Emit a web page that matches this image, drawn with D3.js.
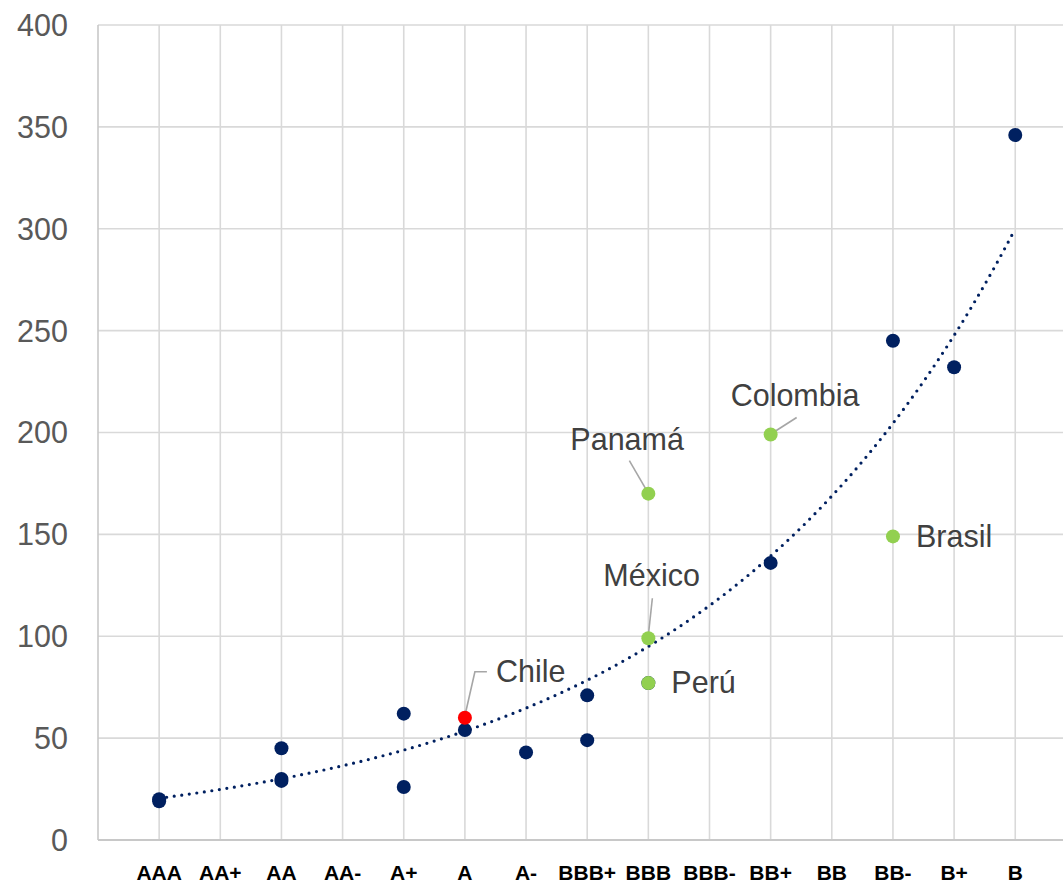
<!DOCTYPE html>
<html>
<head>
<meta charset="utf-8">
<script src="https://cdn.jsdelivr.net/npm/d3@7"></script>
<style>
  html, body { margin: 0; padding: 0; background: #fff; }
  svg { display: block; }
  text { font-family: Arial, "Liberation Sans", sans-serif; }
</style>
</head>
<body>
<svg id="chart" width="1063" height="884"></svg>
<script>
// ---- Data ----
const categories = ["AAA","AA+","AA","AA-","A+","A","A-","BBB+","BBB","BBB-","BB+","BB","BB-","B+","B"];
const yTicks = [0, 50, 100, 150, 200, 250, 300, 350, 400];

// other countries (navy)
const otherRatings = ["AAA","AAA","AA","AA","AA","A+","A+","A","A-","BBB+","BBB+","BBB","BB+","BB-","B+","B"];
const otherValues  = [20, 19, 45, 30, 29, 62, 26, 54, 43, 71, 49, 77, 136, 245, 232, 346];

// highlighted Latin American countries (green)
const latamNames   = ["Panamá","México","Perú","Colombia","Brasil"];
const latamRatings = ["BBB","BBB","BBB","BB+","BB-"];
const latamValues  = [170, 99, 77, 199, 149];

// Chile (red)
const chileName = "Chile";
const chileRating = "A";
const chileValue = 60;

// exponential trend line endpoints
const trendStartValue = 20.5;   // at AAA
const trendEndValue = 300;      // at B

// ---- Layout / style ----
const svg = d3.select("#chart");
const x = d3.scaleLinear().domain([0, 16]).range([98, 98 + 16 * 61.15]);
const y = d3.scaleLinear().domain([0, 400]).range([840, 25]);
const pos = c => categories.indexOf(c) + 1;

const navy = "#002060", green = "#92D050", red = "#FF0000";
const gridColor = "#D9D9D9";

// gridlines
const g = svg.append("g");
g.selectAll("line.h").data(yTicks.filter(d => d > 0)).join("line")
  .attr("x1", x(0)).attr("x2", 1063)
  .attr("y1", d => y(d)).attr("y2", d => y(d))
  .attr("stroke", gridColor).attr("stroke-width", 1.6);
g.selectAll("line.v").data(d3.range(0, 17)).join("line")
  .attr("x1", d => x(d)).attr("x2", d => x(d))
  .attr("y1", y(400)).attr("y2", y(0))
  .attr("stroke", d => d === 0 ? "#C8C8C8" : gridColor).attr("stroke-width", 1.6);
// baseline
g.append("line").attr("x1", x(0)).attr("x2", 1063).attr("y1", y(0)).attr("y2", y(0))
  .attr("stroke", "#C8C8C8").attr("stroke-width", 1.8);

// y axis labels
svg.append("g").selectAll("text").data(yTicks).join("text")
  .attr("x", 68).attr("y", d => y(d)).attr("dy", "0.36em")
  .attr("text-anchor", "end").attr("font-size", 30.5).attr("fill", "#595959")
  .text(d => d);

// x axis labels
svg.append("g").selectAll("text").data(categories).join("text")
  .attr("x", (d, i) => x(i + 1)).attr("y", 880)
  .attr("text-anchor", "middle").attr("font-size", 21).attr("font-weight", "bold")
  .attr("fill", "#000").text(d => d);

// trend line
const b = Math.log(trendEndValue / trendStartValue) / 14;
const trendPts = d3.range(1, 15.001, 0.05).map(t => [t, trendStartValue * Math.exp(b * (t - 1))]);
svg.append("path")
  .datum(trendPts)
  .attr("d", d3.line().x(d => x(d[0])).y(d => y(d[1])))
  .attr("fill", "none").attr("stroke", navy).attr("stroke-width", 3.2)
  .attr("stroke-linecap", "round").attr("stroke-dasharray", "0 7.6");

// navy points
svg.append("g").selectAll("circle").data(otherValues).join("circle")
  .attr("cx", (d, i) => x(pos(otherRatings[i]))).attr("cy", d => y(d))
  .attr("r", 7).attr("fill", navy);

// leader lines + labels
const labelLayout = {
  "Panamá":   { tx: -78, ty: -44, line: [[-19, -33], [-1, -2]] },
  "México":   { tx: -45, ty: -52, line: [[4, -40], [0, -3]] },
  "Perú":     { tx: 23, ty: 10, line: null },
  "Colombia": { tx: -40, ty: -29, line: [[26, -17], [1, -1]] },
  "Brasil":   { tx: 23, ty: 11, line: null },
  "Chile":    { tx: 31, ty: -36, line: [[10, -46], [0, -2]], elbow: [22, -46] }
};
function drawLabel(name, cx, cy) {
  const L = labelLayout[name];
  if (L.line) {
    const pts = [];
    if (L.elbow) pts.push([cx + L.elbow[0], cy + L.elbow[1]]);
    pts.push([cx + L.line[0][0], cy + L.line[0][1]]);
    pts.push([cx + L.line[1][0], cy + L.line[1][1]]);
    svg.append("path").attr("d", d3.line()(pts))
      .attr("fill", "none").attr("stroke", "#A6A6A6").attr("stroke-width", 1.6);
  }
  svg.append("text").attr("x", cx + L.tx).attr("y", cy + L.ty)
    .attr("font-size", 30.5).attr("fill", "#404040").text(name);
}

// green points
latamValues.forEach((v, i) => {
  const cx = x(pos(latamRatings[i])), cy = y(v);
  drawLabel(latamNames[i], cx, cy);
});
svg.append("g").selectAll("circle").data(latamValues).join("circle")
  .attr("cx", (d, i) => x(pos(latamRatings[i]))).attr("cy", d => y(d))
  .attr("r", 7).attr("fill", green);

// Chile
{
  const cx = x(pos(chileRating)), cy = y(chileValue);
  drawLabel(chileName, cx, cy);
  svg.append("circle").attr("cx", cx).attr("cy", cy).attr("r", 7).attr("fill", red);
}
</script>
</body>
</html>
